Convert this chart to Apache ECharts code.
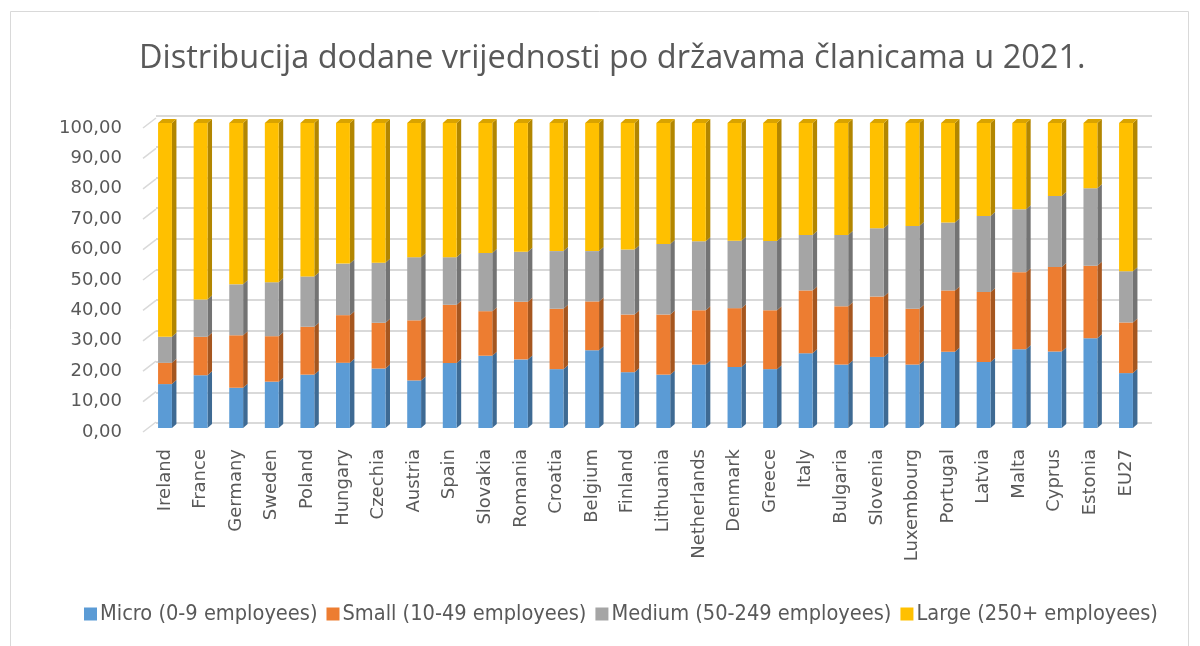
<!DOCTYPE html>
<html>
<head>
<meta charset="utf-8">
<script src="https://cdn.jsdelivr.net/npm/echarts@6/dist/echarts.min.js"></script>
<style>html,body{margin:0;padding:0;background:#fff;}#chart{width:1200px;height:646px;}</style>
</head>
<body>
<div id="chart"></div>
<script>
const categories = ['Ireland','France','Germany','Sweden','Poland','Hungary','Czechia','Austria','Spain','Slovakia','Romania','Croatia','Belgium','Finland','Lithuania','Netherlands','Denmark','Greece','Italy','Bulgaria','Slovenia','Luxembourg','Portugal','Latvia','Malta','Cyprus','Estonia','EU27'];
const micro  = [14.4,17.3,13.2,15.2,17.5,21.4,19.5,15.6,21.3,23.7,22.5,19.3,25.5,18.3,17.5,20.8,20.0,19.3,24.5,20.8,23.3,20.8,25.0,21.6,25.8,25.1,29.4,18.0];
const small  = [7.0,12.6,17.2,14.9,15.7,15.6,15.0,19.7,19.1,14.6,18.9,19.8,16.0,18.9,19.7,17.8,19.3,19.3,20.6,19.1,19.8,18.3,20.1,23.0,25.3,27.7,23.8,16.6];
const medium = [8.5,12.2,16.7,17.7,16.5,16.9,19.7,20.7,15.6,19.1,16.4,18.9,16.5,21.3,23.1,22.6,22.1,22.7,18.2,23.4,22.4,27.1,22.3,24.9,20.6,23.3,25.4,16.8];
const large  = [70.1,57.9,52.9,52.2,50.3,46.1,45.8,44.0,44.0,42.6,42.2,42.0,42.0,41.5,39.7,38.8,38.6,38.7,36.7,36.7,34.5,33.8,32.6,30.5,28.3,23.9,21.4,48.6];
const seriesNames = ['Micro (0-9 employees)','Small (10-49 employees)','Medium (50-249 employees)','Large (250+ employees)'];
const yTicks = [0,10,20,30,40,50,60,70,80,90,100];

const frontColors = ['#5B9BD5','#ED7D31','#A5A5A5','#FFC000'];
const sideColors  = ['#3E6A93','#A5561F','#737373','#B28600'];
const topColors   = ['#4A80B0','#C4661F','#8C8C8C','#D9A300'];
const DX = 4.5, DY = -4;

const valueSets = [micro, small, medium, large];
const cum = categories.map(() => 0);
const seriesData = valueSets.map(vals => vals.map((v, i) => {
  const b = cum[i]; cum[i] += v; return [i, b, cum[i]];
}));

function makeRender(k) {
  return function (params, api) {
    const i = api.value(0), b = api.value(1), t = api.value(2);
    const p0 = api.coord([i, b]);
    const p1 = api.coord([i, t]);
    const bw = api.size([1, 0])[0];
    const w = bw * 0.39;
    const x0 = p0[0] - w / 2;
    const yT = p1[1], yB = p0[1];
    const children = [
      {type: 'polygon', shape: {points: [[x0 + w, yT], [x0 + w + DX, yT + DY], [x0 + w + DX, yB + DY], [x0 + w, yB]]}, style: {fill: sideColors[k]}},
      {type: 'rect', shape: {x: x0, y: yT, width: w, height: yB - yT}, style: {fill: frontColors[k]}}
    ];
    if (k === 3) {
      children.push({type: 'polygon', shape: {points: [[x0, yT], [x0 + DX, yT + DY], [x0 + w + DX, yT + DY], [x0 + w, yT]]}, style: {fill: topColors[k]}});
    }
    return {type: 'group', children: children};
  };
}

const labelFont = 'DejaVu Sans';
const chart = echarts.init(document.getElementById('chart'), null, {renderer: 'canvas'});
const option = {
  backgroundColor: '#fff',
  animation: false,
  title: {
    text: 'Distribucija dodane vrijednosti po državama članicama u 2021.',
    left: 134, top: 37,
    textStyle: {fontFamily: 'Open Sans', fontSize: 32.5, fontWeight: 'normal', color: '#595959'}
  },
  graphic: [{type: 'rect', shape: {x: 10.5, y: 11.5, width: 1178, height: 700}, style: {fill: 'none', stroke: '#d9d9d9', lineWidth: 1}, silent: true, z: -10}],
  legend: {
    left: 79, top: 598, itemWidth: 13, itemHeight: 13, itemGap: 9, icon: 'rect',
    textStyle: {fontFamily: 'DejaVu Sans Condensed', fontSize: 21.6, color: '#595959', padding: [0, 0, 0, -2]},
    data: seriesNames
  },
  grid: [
    {left: 147.2, right: 1200 - 1143.8, top: 123, bottom: 646 - 428},
    {left: 156, right: 1200 - 1152, top: 116, bottom: 646 - 423},
    {left: 143, width: 13, top: 128, bottom: 646 - 432}
  ],
  xAxis: [
    {type: 'category', gridIndex: 0, data: categories, axisLine: {show: false}, axisTick: {show: false},
     axisLabel: {rotate: 90, margin: 21, interval: 0, fontFamily: labelFont, fontSize: 18, color: '#595959'}},
    {type: 'value', gridIndex: 1, min: 0, max: 1, show: false},
    {type: 'value', gridIndex: 2, min: 0, max: 1, show: false}
  ],
  yAxis: [
    {type: 'value', gridIndex: 0, min: 0, max: 100, interval: 10, show: false},
    {type: 'value', gridIndex: 1, min: 0, max: 100, interval: 10, axisLabel: {show: false}, axisLine: {show: false}, axisTick: {show: false},
     splitLine: {lineStyle: {color: '#d9d9d9', width: 2}}},
    {type: 'value', gridIndex: 2, min: 0, max: 100, interval: 10, axisLine: {show: false}, axisTick: {show: false}, splitLine: {show: false},
     axisLabel: {margin: 21, fontFamily: labelFont, fontSize: 18, color: '#595959', formatter: v => v.toFixed(2).replace('.', ',')}}
  ],
  series: seriesNames.map((name, k) => ({
    name: name, type: 'custom', xAxisIndex: 0, yAxisIndex: 0,
    itemStyle: {color: frontColors[k]},
    renderItem: makeRender(k),
    encode: {x: 0, y: [1, 2]},
    data: seriesData[k],
    z: 5
  })).concat([{
    type: 'custom', xAxisIndex: 2, yAxisIndex: 2, silent: true, z: 1,
    renderItem: function (params, api) {
      const a = api.coord([0, api.value(0)]);
      const b = api.coord([1, api.value(0)]);
      return {type: 'line', shape: {x1: a[0], y1: a[1], x2: b[0], y2: b[1] - 10}, style: {stroke: '#d9d9d9', lineWidth: 1.5}};
    },
    encode: {y: 0},
    data: yTicks.map(v => [v])
  }])
};
chart.setOption(option);
</script>
</body>
</html>
